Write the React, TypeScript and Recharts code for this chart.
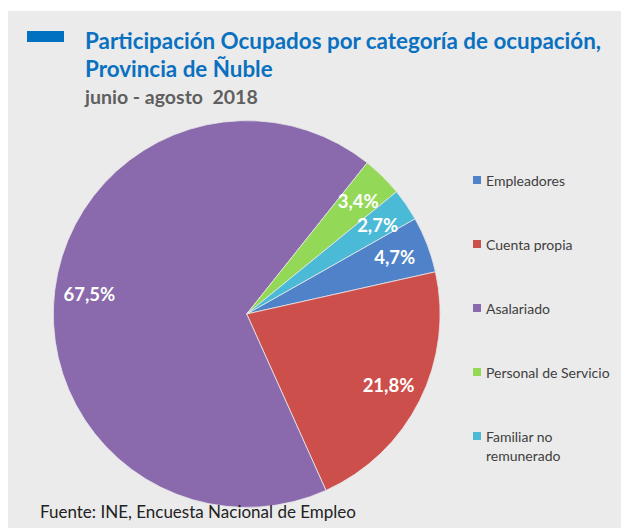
import { PieChart, Pie, Cell, Legend } from 'recharts';

const categories = ['Empleadores', 'Cuenta propia', 'Asalariado', 'Personal de Servicio', 'Familiar no remunerado'];
const shares = [4.7, 21.8, 67.5, 3.4, 2.7];
const colors = ['#4f82c8', '#cd4f4c', '#8a69ad', '#93d957', '#4bbad6'];

const data = categories.map((name, i) => ({ name, value: shares[i] }));

const FONT = 'Lato, "Open Sans", sans-serif';
const RADIAN = Math.PI / 180;

function renderLabel(props: any) {
  const { cx, cy, midAngle, outerRadius, value } = props;
  const r = outerRadius * 0.82;
  const x = cx + r * Math.cos(-midAngle * RADIAN);
  const y = cy + r * Math.sin(-midAngle * RADIAN);
  return (
    <text
      x={x}
      y={y}
      fill="#ffffff"
      textAnchor="middle"
      dominantBaseline="central"
      fontFamily={FONT}
      fontWeight={700}
      fontSize={18.5}
    >
      {value.toFixed(1).replace('.', ',') + '%'}
    </text>
  );
}

function renderLegend() {
  return (
    <div style={{ fontFamily: FONT, fontSize: 14, color: '#404040' }}>
      {categories.map((name, i) => (
        <div key={name} style={{ display: 'flex', alignItems: 'flex-start', height: 64 }}>
          <span
            style={{
              width: 8,
              height: 8,
              background: colors[i],
              marginTop: 5,
              marginRight: 5,
              flexShrink: 0,
            }}
          />
          <span style={{ lineHeight: '19px', width: 130 }}>
            {name === 'Familiar no remunerado' ? (
              <>
                Familiar no
                <br />
                remunerado
              </>
            ) : (
              name
            )}
          </span>
        </div>
      ))}
    </div>
  );
}

export default function App() {
  return (
    <div
      style={{
        position: 'relative',
        width: 621,
        height: 517,
        marginTop: 3,
        background: '#ebebeb',
        fontFamily: FONT,
      }}
    >
      <div
        style={{
          position: 'absolute',
          left: 19,
          top: 20,
          width: 37,
          height: 11,
          background: '#0070c0',
        }}
      />
      <div
        style={{
          position: 'absolute',
          left: 77,
          top: 16,
          color: '#0a70c0',
          fontWeight: 700,
          fontSize: 22.4,
          lineHeight: '28px',
          whiteSpace: 'nowrap',
        }}
      >
        Participación Ocupados por categoría de ocupación,
        <br />
        Provincia de Ñuble
      </div>
      <div
        style={{
          position: 'absolute',
          left: 77,
          top: 74,
          color: '#5f5f5f',
          fontWeight: 700,
          fontSize: 19.5,
          whiteSpace: 'pre',
        }}
      >
        {'junio - agosto  2018'}
      </div>
      <PieChart width={621} height={517}>
        <Pie
          data={data}
          dataKey="value"
          nameKey="name"
          cx={233.7}
          cy={298}
          outerRadius={193.4}
          startAngle={29.5}
          endAngle={29.5 - 360}
          stroke="#e8e8e8"
          strokeWidth={0.8}
          label={renderLabel}
          labelLine={false}
          isAnimationActive={false}
        >
          {data.map((d, i) => (
            <Cell key={d.name} fill={colors[i]} />
          ))}
        </Pie>
        <Legend
          layout="vertical"
          content={renderLegend}
          wrapperStyle={{ left: 465, top: 160, width: 150 }}
        />
      </PieChart>
      <div
        style={{
          position: 'absolute',
          left: 32,
          top: 490,
          color: '#222222',
          fontSize: 17,
          whiteSpace: 'nowrap',
        }}
      >
        Fuente: INE, Encuesta Nacional de Empleo
      </div>
    </div>
  );
}
